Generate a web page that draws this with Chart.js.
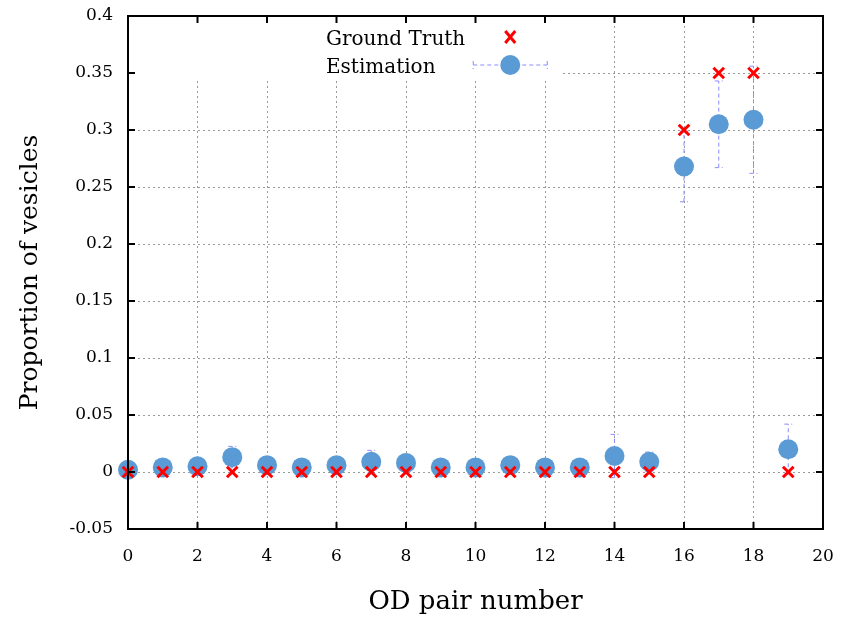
<!DOCTYPE html>
<html>
<head>
<meta charset="utf-8">
<script src="https://cdn.jsdelivr.net/npm/chart.js@4.4.1/dist/chart.umd.min.js"></script>
<style>
    body { margin: 0; background: #fff; }
    #box { width: 842px; height: 617px; }
</style>
</head>
<body>
<div id="box"><canvas id="grafico"></canvas></div>
<script>
// dados
const pares = [0, 1, 2, 3, 4, 5, 6, 7, 8, 9, 10, 11, 12, 13, 14, 15, 16, 17, 18, 19];
const verdade = [0, 0, 0, 0, 0, 0, 0, 0, 0, 0, 0, 0, 0, 0, 0, 0, 0.30, 0.35, 0.35, 0];
const estimativa = [0.002, 0.004, 0.005, 0.013, 0.006, 0.004, 0.006, 0.009, 0.008, 0.004,
                    0.004, 0.006, 0.004, 0.004, 0.014, 0.009, 0.268, 0.305, 0.309, 0.020];
const erro = [0.003, 0.004, 0.004, 0.0095, 0.004, 0.003, 0.004, 0.010, 0.0075, 0.003,
              0.003, 0.004, 0.003, 0.003, 0.019, 0.0085, 0.031, 0.038, 0.047, 0.022];
const ticksX = [0, 2, 4, 6, 8, 10, 12, 14, 16, 18, 20];
const ticksY = [-0.05, 0, 0.05, 0.1, 0.15, 0.2, 0.25, 0.3, 0.35, 0.4];

const FONTE = "'DejaVu Serif', 'Liberation Serif', serif";
const AZUL = "#5b9bd5";
const COR_ERRO = "#8c8cff";

function pontos(valores) {
    return pares.map((x, i) => ({ x: x, y: valores[i] }));
}

function barraErro(ctx, x, y1, y2, cap) {
    ctx.beginPath();
    ctx.moveTo(x, y1); ctx.lineTo(x, y2);
    ctx.moveTo(x - cap, y1); ctx.lineTo(x + cap, y1);
    ctx.moveTo(x - cap, y2); ctx.lineTo(x + cap, y2);
    ctx.stroke();
}

const extras = {
    id: "extras",
    beforeDatasetsDraw(chart) {
        const { ctx, chartArea, scales } = chart;
        // caixa da legenda tapa a grelha
        ctx.save();
        ctx.fillStyle = "#fff";
        const lx = scales.x.getPixelForValue(12.5);
        const ly = scales.y.getPixelForValue(0.3456);
        ctx.fillRect(chartArea.left, chartArea.top, lx - chartArea.left, ly - chartArea.top);
        // barras de erro
        ctx.strokeStyle = COR_ERRO;
        ctx.lineWidth = 1;
        ctx.setLineDash([4, 3]);
        pares.forEach((p, i) => {
            const x = scales.x.getPixelForValue(p);
            barraErro(ctx, x,
                scales.y.getPixelForValue(estimativa[i] - erro[i]),
                scales.y.getPixelForValue(estimativa[i] + erro[i]), 4);
        });
        ctx.restore();
    },
    afterDraw(chart) {
        const { ctx, chartArea, scales } = chart;
        const a = chartArea;
        ctx.save();
        // moldura e ticks para dentro
        ctx.strokeStyle = "#000";
        ctx.lineWidth = 2;
        ctx.beginPath();
        ticksX.forEach(v => {
            const x = scales.x.getPixelForValue(v);
            ctx.moveTo(x, a.bottom); ctx.lineTo(x, a.bottom - 7);
            ctx.moveTo(x, a.top); ctx.lineTo(x, a.top + 7);
        });
        ticksY.forEach(v => {
            const y = scales.y.getPixelForValue(v);
            ctx.moveTo(a.left, y); ctx.lineTo(a.left + 7, y);
            ctx.moveTo(a.right, y); ctx.lineTo(a.right - 7, y);
        });
        ctx.stroke();
        ctx.strokeRect(a.left, a.top, a.right - a.left, a.bottom - a.top);

        // legenda
        const sx = scales.x.getPixelForValue(11);
        const y1 = a.top + 21;
        const y2 = a.top + 49;
        ctx.fillStyle = "#000";
        ctx.font = "20px " + FONTE;
        ctx.textBaseline = "middle";
        ctx.fillText("Ground Truth", a.left + 198, y1 + 3);
        ctx.fillText("Estimation", a.left + 198, y2 + 3);

        ctx.strokeStyle = COR_ERRO;
        ctx.lineWidth = 1;
        ctx.setLineDash([4, 3]);
        ctx.beginPath();
        ctx.moveTo(sx - 37, y2); ctx.lineTo(sx + 37, y2);
        ctx.moveTo(sx - 37, y2 - 4); ctx.lineTo(sx - 37, y2 + 4);
        ctx.moveTo(sx + 37, y2 - 4); ctx.lineTo(sx + 37, y2 + 4);
        ctx.stroke();
        ctx.setLineDash([]);

        ctx.fillStyle = AZUL;
        ctx.beginPath();
        ctx.arc(sx, y2, 10, 0, Math.PI * 2);
        ctx.fill();

        ctx.strokeStyle = "#ff0000";
        ctx.lineWidth = 3;
        ctx.beginPath();
        ctx.moveTo(sx - 5, y1 - 6); ctx.lineTo(sx + 5, y1 + 6);
        ctx.moveTo(sx + 5, y1 - 6); ctx.lineTo(sx - 5, y1 + 6);
        ctx.stroke();
        ctx.restore();
    }
};

function formatar(v) {
    return String(Number(v.toFixed(2)));
}

function grafico() {
    new Chart(document.getElementById("grafico"), {
        type: "scatter",
        data: {
            datasets: [
                {
                    label: "Ground Truth",
                    data: pontos(verdade),
                    pointStyle: "crossRot",
                    pointRadius: 7.5,
                    borderColor: "#ff0000",
                    borderWidth: 3,
                    clip: false,
                    order: 0
                },
                {
                    label: "Estimation",
                    data: pontos(estimativa),
                    pointStyle: "circle",
                    pointRadius: 10,
                    backgroundColor: AZUL,
                    borderColor: AZUL,
                    borderWidth: 0,
                    clip: false,
                    order: 1
                }
            ]
        },
        options: {
            responsive: true,
            maintainAspectRatio: false,
            animation: false,
            events: [],
            layout: { autoPadding: false, padding: { top: 16, right: 19, left: 0, bottom: 0 } },
            plugins: {
                legend: { display: false },
                tooltip: { enabled: false }
            },
            scales: {
                x: {
                    type: "linear",
                    min: 0,
                    max: 20,
                    afterFit: s => { s.height = 88; s.paddingLeft = 0; s.paddingRight = 0; },
                    afterBuildTicks: s => { s.ticks = ticksX.map(v => ({ value: v })); },
                    grid: { color: "#9a9a9a", lineWidth: 1, drawTicks: false },
                    border: { display: false, dash: [2, 3] },
                    ticks: {
                        color: "#000",
                        padding: 17,
                        maxRotation: 0,
                        font: { family: FONTE, size: 17 },
                        callback: v => formatar(v)
                    },
                    title: {
                        display: true,
                        text: "OD pair number",
                        color: "#000",
                        font: { family: FONTE, size: 26, lineHeight: 1.1 },
                        padding: { top: 0, bottom: 0 }
                    }
                },
                y: {
                    type: "linear",
                    min: -0.05,
                    max: 0.4,
                    afterFit: s => { s.width = 128; s.paddingTop = 0; s.paddingBottom = 0; },
                    afterBuildTicks: s => { s.ticks = ticksY.map(v => ({ value: v })); },
                    grid: { color: "#9a9a9a", lineWidth: 1, drawTicks: false },
                    border: { display: false, dash: [2, 3] },
                    ticks: {
                        color: "#000",
                        padding: 15,
                        font: { family: FONTE, size: 17 },
                        callback: v => formatar(v)
                    },
                    title: {
                        display: true,
                        text: "Proportion of vesicles",
                        color: "#000",
                        font: { family: FONTE, size: 25, lineHeight: 1.1 },
                        padding: { top: 17, bottom: 0 }
                    }
                }
            }
        },
        plugins: [extras]
    });
}

grafico();
</script>
</body>
</html>
